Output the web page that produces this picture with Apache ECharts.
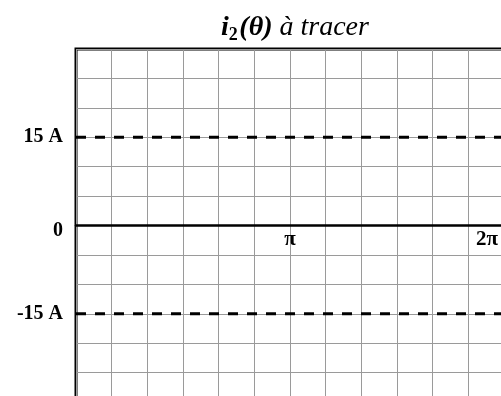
<!DOCTYPE html>
<html>
<head>
<meta charset="utf-8">
<script src="https://cdn.jsdelivr.net/npm/echarts@6/dist/echarts.min.js"></script>
<style>
  html, body { margin: 0; padding: 0; background: #fff; }
  #chart { width: 501px; height: 396px; }
</style>
</head>
<body>
<div id="chart"></div>
<script>
// Angle axis in degrees: one period 0..360, grid every 30°
const thetaMin = 0;
const thetaMax = 360;
const thetaStep = 30;
const thetaLabels = { 180: 'π', 360: '2π' };

// Current axis in amperes, grid every 5 A
const currentMin = -30;
const currentMax = 30;
const currentStep = 5;
const currentLabels = { 15: '15 A', 0: '0', '-15': '-15 A' };

// Reference levels drawn as dashed horizontals
const levelValues = [15, -15];

const serif = '"Liberation Serif", "Times New Roman", serif';

const gridTop = 49;
const gridHeight = 353;

const chart = echarts.init(document.getElementById('chart'), null, { renderer: 'canvas' });

const levelSeries = levelValues.map(v => ({
  type: 'line',
  data: [[thetaMin, v], [thetaMax, v]],
  symbol: 'none',
  silent: true,
  lineStyle: { color: '#000', width: 3, type: [10, 9] },
  z: 3
}));

chart.setOption({
  animation: false,
  backgroundColor: '#fff',
  title: {
    left: 290,
    top: 7,
    textAlign: 'center',
    text: '{bi|i}{sub|2}{gap| }{bi|(θ)}{it| à tracer}',
    textStyle: {
      rich: {
        bi: { fontFamily: serif, fontSize: 28, fontWeight: 'bold', fontStyle: 'italic', color: '#000', lineHeight: 32 },
        sub: { fontFamily: serif, fontSize: 18, fontWeight: 'bold', fontStyle: 'normal', color: '#000', lineHeight: 12, verticalAlign: 'bottom' },
        gap: { fontFamily: serif, fontSize: 6, color: '#000' },
        it: { fontFamily: serif, fontSize: 28, fontWeight: 'normal', fontStyle: 'italic', color: '#000', lineHeight: 32 }
      }
    }
  },
  grid: {
    left: 76,
    top: gridTop,
    width: 428,
    height: gridHeight,
    outerBoundsMode: 'none',
    containLabel: false,
    show: true,
    borderColor: '#000',
    borderWidth: 3,
    backgroundColor: 'transparent'
  },
  xAxis: {
    type: 'value',
    min: thetaMin,
    max: thetaMax,
    interval: thetaStep,
    position: 'bottom',
    offset: -gridHeight / 2,
    axisLine: { onZero: false, lineStyle: { color: '#000', width: 2.5 } },
    axisTick: { show: false },
    splitLine: { show: true, lineStyle: { color: '#9a9a9a', width: 1 } },
    axisLabel: {
      margin: 4,
      showMaxLabel: true,
      hideOverlap: false,
      formatter: v => {
        const t = thetaLabels[v];
        if (!t) return '';
        return v === thetaMax ? '{end|' + t + '}' : '{mid|' + t + '}';
      },
      rich: {
        mid: { fontFamily: serif, fontSize: 21, fontWeight: 'bold', color: '#000' },
        end: { fontFamily: serif, fontSize: 21, fontWeight: 'bold', color: '#000', padding: [0, 34, 0, 0] }
      }
    }
  },
  yAxis: {
    type: 'value',
    min: currentMin,
    max: currentMax,
    interval: currentStep,
    axisLine: { show: false },
    axisTick: { show: false },
    splitLine: { show: true, lineStyle: { color: '#9a9a9a', width: 1 } },
    axisLabel: {
      margin: 13,
      formatter: v => {
        const t = currentLabels[v];
        if (!t) return '';
        return v === 0 ? '{zero|' + t + '}' : '{lab|' + t + '}';
      },
      rich: {
        lab: { fontFamily: serif, fontSize: 20, fontWeight: 'bold', color: '#000' },
        zero: { fontFamily: serif, fontSize: 20, fontWeight: 'bold', color: '#000', padding: [10, 0, 0, 0] }
      }
    }
  },
  series: levelSeries
});
</script>
</body>
</html>
